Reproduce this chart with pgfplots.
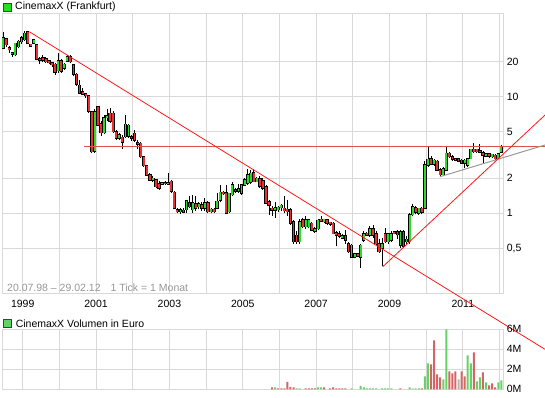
\documentclass[border=0pt]{standalone}
\usepackage{pgfplots}
\pgfplotsset{compat=1.18}
\usepackage{pgfplotstable}
\usepackage{fontspec}
\setmainfont{Liberation Sans}
\definecolor{cgreen}{RGB}{40,220,40}
\definecolor{cred}{RGB}{230,50,50}
\definecolor{vgreen}{RGB}{100,210,100}
\definecolor{vred}{RGB}{215,100,100}
\definecolor{vgray}{RGB}{180,180,180}
\definecolor{gridgray}{RGB}{217,217,217}
\definecolor{tline}{RGB}{255,25,25}
\definecolor{hline}{RGB}{220,80,80}
\definecolor{txtgray}{RGB}{150,150,150}

% monthly candles, m = months since Jan 1999
\pgfplotstableread{
m O H L C
-6 26 36 25.5 32
-2 23 29 22.5 28.8
-1 27 31 26 30
0 29.6 33 28.5 32.2
1 31 36.5 30 35
4 28.8 31.5 28.5 31
12 16.7 23.6 16 20.3
14 17.6 19.5 17 19
15 20.3 23 20 22.1
24 3.4 7.8 3.3 7.4
27 4.9 7.0 4.8 6.6
28 6.6 7.8 6.2 6.9
32 4.4 4.9 4.3 4.7
34 4.55 7.0 4.4 5.8
35 4.6 5.8 4.4 5.7
43 1.93 2.1 1.85 2.0
46 1.77 1.85 1.75 1.82
48 1.77 2.2 1.76 1.82
52 1.03 1.12 0.98 1.07
54 1.07 1.3 1.0 1.28
56 1.07 1.45 1.0 1.23
58 1.14 1.25 1.08 1.2
60 1.1 1.35 1.05 1.23
62 1.03 1.12 1.0 1.08
64 1.1 1.5 1.08 1.27
65 1.3 1.75 1.25 1.51
68 1.03 1.5 1.0 1.48
69 1.44 1.85 1.4 1.75
71 1.55 1.8 1.5 1.62
72 1.48 1.8 1.45 1.75
73 1.75 2.0 1.7 1.95
74 1.81 2.4 1.75 2.13
75 1.85 2.35 1.8 2.2
77 1.87 2.05 1.85 2.0
83 1.06 1.25 0.92 1.12
84 1.07 1.15 1.02 1.13
85 1.12 1.2 1.05 1.17
91 0.57 0.9 0.55 0.85
93 0.77 0.95 0.74 0.88
94 0.77 0.9 0.75 0.88
96 0.70 0.76 0.68 0.74
97 0.74 0.9 0.72 0.87
99 0.85 0.9 0.83 0.89
105 0.61 0.66 0.6 0.645
108 0.42 0.55 0.41 0.53
109 0.42 0.46 0.41 0.45
111 0.42 0.55 0.34 0.53
112 0.59 0.7 0.57 0.67
114 0.65 0.78 0.63 0.74
118 0.50 0.62 0.35 0.55
120 0.57 0.68 0.55 0.67
121 0.59 0.7 0.57 0.67
124 0.53 0.72 0.5 0.69
126 0.57 0.64 0.55 0.6
127 0.57 1.0 0.55 0.97
128 0.97 1.2 0.95 1.14
130 1.0 1.12 0.97 1.1
132 1.10 2.8 1.08 2.6
133 2.6 3.73 2.5 2.9
135 2.65 2.9 2.55 2.85
138 2.15 2.5 2.1 2.4
139 2.35 3.73 2.3 3.27
142 2.86 3.0 2.8 2.95
145 2.7 2.9 2.45 2.85
146 2.6 3.0 2.5 2.95
147 2.95 3.6 2.9 3.54
152 3.1 3.3 3.05 3.25
154 3.05 3.25 3.0 3.2
156 2.95 3.3 2.9 3.25
157 3.35 3.86 3.3 3.73
}\upc

\pgfplotstableread{
m O H L C
-5 31.5 32 27 28
-4 26.2 27.5 24 25.4
-3 23.9 24.2 22 23.2
2 36 37 28.5 29
3 28.2 28.5 26.5 27.3
5 28 28.5 20.5 21
6 21.3 22 19 20.6
7 21.7 23 20 20.7
8 21.3 22 19.5 20
9 20.3 20.5 19 19.6
10 19.5 20 18 18.8
11 19 19.5 15.5 16.2
13 20.3 21 16 16.5
16 22 23 19.5 20
17 18.8 19 15 15.6
18 15.6 16 12.5 12.8
19 12.6 14 10.5 10.7
20 11 11.8 10.3 10.5
21 10.6 10.8 9.8 10.2
22 10.2 10.3 7.3 7.5
23 7.45 7.6 3.27 3.38
25 8.2 8.4 5.6 5.7
26 5.9 6.2 4.6 4.9
29 7.2 8.0 6.0 6.2
30 7.2 7.5 4.9 5.0
31 5.0 5.2 4.3 4.4
33 4.5 4.7 3.6 4.1
36 4.55 4.7 4.2 4.4
37 4.86 5.2 4.1 4.25
38 4.05 4.3 3.6 3.9
39 3.98 4.1 3.0 3.06
40 3.06 3.1 2.5 2.56
41 2.56 2.6 2.1 2.13
42 2.13 2.2 1.9 1.93
44 1.93 1.95 1.65 1.69
45 1.8 1.9 1.6 1.64
47 1.83 1.9 1.75 1.79
49 1.89 1.95 1.5 1.55
50 1.51 1.55 1.08 1.10
51 1.07 1.1 1.0 1.03
53 1.06 1.1 1.0 1.02
55 1.23 1.4 1.1 1.14
57 1.2 1.4 1.05 1.1
59 1.18 1.25 1.05 1.1
61 1.23 1.28 1.0 1.03
63 1.08 1.1 1.0 1.03
66 1.51 1.55 1.45 1.47
67 1.50 1.75 0.98 1.0
70 1.6 1.65 1.5 1.54
76 2.23 2.39 1.85 1.87
78 1.99 2.1 1.65 1.71
79 1.9 2.0 1.6 1.65
80 1.69 1.75 1.2 1.22
81 1.26 1.3 0.97 1.18
82 1.1 1.15 0.95 1.06
86 1.1 1.4 1.0 1.05
87 1.08 1.3 0.95 1.03
88 1.07 1.1 0.8 0.82
89 0.85 0.88 0.55 0.57
90 0.65 0.7 0.55 0.57
92 0.88 0.92 0.75 0.77
95 0.82 0.85 0.7 0.72
98 0.89 0.95 0.84 0.86
100 0.88 0.9 0.8 0.82
101 0.84 0.85 0.78 0.805
102 0.82 0.84 0.66 0.67
103 0.68 0.7 0.52 0.65
104 0.665 0.7 0.62 0.635
106 0.64 0.72 0.55 0.59
107 0.55 0.57 0.46 0.47
110 0.45 0.46 0.42 0.43
113 0.675 0.69 0.64 0.65
115 0.74 0.8 0.62 0.65
116 0.67 0.7 0.53 0.55
117 0.55 0.6 0.46 0.47
119 0.67 0.75 0.56 0.57
122 0.69 0.7 0.66 0.67
123 0.69 0.72 0.6 0.655
125 0.69 0.72 0.5 0.52
129 1.12 1.15 0.98 1.02
131 1.1 1.14 0.98 1.02
134 2.95 3.1 2.6 2.65
136 2.8 2.85 2.3 2.35
137 2.35 2.45 2.05 2.15
140 3.27 3.35 3.0 3.06
141 3.06 3.15 2.8 2.9
143 2.95 3.0 2.75 2.8
144 2.85 2.9 2.65 2.7
148 3.54 4.03 3.3 3.38
149 3.54 3.6 3.3 3.38
150 3.45 3.9 3.3 3.36
151 3.3 3.4 2.69 3.15
153 3.25 3.3 3.0 3.1
155 3.15 3.2 2.85 2.95
}\downc

% volume in million euro
\pgfplotstableread{
m V
83 0.2
90 0.1
91 0.1
97 0.2
98 0.2
108 0.1
111 0.35
112 0.2
113 0.1
114 0.1
115 0.1
116 0.1
118 0.1
119 0.1
120 0.1
121 0.1
127 0.2
129 0.1
130 0.1
132 1.3
133 2.6
138 1.0
139 6.0
146 3.4
147 2.6
149 0.8
150 1.2
152 0.7
156 0.7
157 0.9
}\volgreen
\pgfplotstableread{
m V
82 0.2
84 0.1
85 0.1
86 0.1
87 0.75
88 0.25
89 0.2
93 0.1
94 0.1
95 0.1
96 0.1
99 0.2
101 0.1
102 0.2
103 0.1
104 0.1
105 0.1
106 0.1
124 0.1
131 0.1
134 2.5
135 4.9
136 1.5
137 1.2
140 1.8
141 1.6
142 1.8
144 1.8
145 1.3
148 3.7
151 1.7
153 0.4
154 0.6
155 0.2
}\volred
\pgfplotstableread{
m V
128 0.1
143 1.0
}\volgray

\begin{document}
\begin{tikzpicture}[font=\fontsize{10.5}{12}\selectfont]
\pgfplotsset{
  common/.style={
    scale only axis, anchor=south west, width=500.6pt,
    xmin=-6.15, xmax=157.65,
    axis line style={gridgray, line width=1pt},
    grid=major, major grid style={gridgray, line width=1pt},
    major tick length=0pt,
    xtick={0.4,12.4,24.4,36.4,48.4,60.4,72.4,84.4,96.4,108.4,120.4,132.4,144.4,156.4},
    yticklabel pos=right,
    ticklabel style={font=\fontsize{10.5}{12}\selectfont, text=black},
    /pgf/number format/assume math mode=true,
  },
  wick/.style={draw=none, mark=none, forget plot,
    error bars/.cd, y dir=plus, y explicit, error mark=none,
    error bar style={draw=black, line width=0.9pt}},
  bodyout/.style={draw=none, mark=none, forget plot,
    error bars/.cd, y dir=plus, y explicit, error mark=none,
    error bar style={draw=black, line width=3.3pt, shorten <=-0.6pt, shorten >=-0.6pt}},
  bodyin/.style={draw=none, mark=none, forget plot,
    error bars/.cd, y dir=plus, y explicit, error mark=none,
    error bar style={draw=#1, line width=1.8pt}},
}
% price panel
\begin{axis}[common,
  at={(2.7pt,104.7pt)}, height=280pt,
  ymode=log, ymin=0.2058, ymax=52.1,
  clip=false,
  xticklabels={1999,,2001,,2003,,2005,,2007,,2009,,2011,},
  xticklabel style={yshift=-3pt},
  ytick={0.5,1,2,5,10,20},
  yticklabels={{0,5},1,2,5,10,20},
]
\addplot[wick] table[x=m, y=L, y error plus expr=\thisrow{H}-\thisrow{L}] {\upc};
\addplot[wick] table[x=m, y=L, y error plus expr=\thisrow{H}-\thisrow{L}] {\downc};
\addplot[bodyout] table[x=m, y=O, y error plus expr=\thisrow{C}-\thisrow{O}] {\upc};
\addplot[bodyout] table[x=m, y=C, y error plus expr=\thisrow{O}-\thisrow{C}] {\downc};
\addplot[bodyin=cgreen] table[x=m, y=O, y error plus expr=\thisrow{C}-\thisrow{O}] {\upc};
\addplot[bodyin=cred] table[x=m, y=C, y error plus expr=\thisrow{O}-\thisrow{C}] {\downc};
% trend lines
\addplot[hline, line width=1pt] coordinates {(20.4,3.78) (171.3,3.78)};
\addplot[black!40, line width=1pt] coordinates {(136.9,2.06) (171.3,3.86)};
\addplot[tline, line width=0.8pt] coordinates {(2.55,36.2) (171.3,0.068)};
\addplot[tline, line width=0.8pt] coordinates {(118.2,0.348) (171.3,6.98)};
\end{axis}
% volume panel
\begin{axis}[common,
  at={(2.7pt,8.7pt)}, height=60pt,
  ymin=0, ymax=6,
  xticklabels={},
  ytick={0,2,4,6},
  yticklabels={0M,2M,4M,6M},
]
\addplot[ybar, bar width=2pt, bar shift=0pt, fill=vgreen, draw=none] table[x=m, y=V] {\volgreen};
\addplot[ybar, bar width=2pt, bar shift=0pt, fill=vred, draw=none] table[x=m, y=V] {\volred};
\addplot[ybar, bar width=2pt, bar shift=0pt, fill=vgray, draw=none] table[x=m, y=V] {\volgray};
\end{axis}
% legends and notes
\filldraw[fill=cgreen, draw=black!75, line width=0.8pt] (3.2pt,386.8pt) rectangle (11.2pt,394.8pt);
\node[anchor=west, inner sep=0pt] at (15pt,391pt) {CinemaxX (Frankfurt)};
\filldraw[fill=vgreen, draw=black!75, line width=0.8pt] (3.2pt,70.2pt) rectangle (11.2pt,78.2pt);
\node[anchor=west, inner sep=0pt] at (15.6pt,74pt) {CinemaxX Volumen in Euro};
\node[anchor=west, inner sep=0pt, text=txtgray] at (7pt,110.2pt) {20.07.98 -- 29.02.12\hspace{10pt}1 Tick = 1 Monat};
\pgfresetboundingbox
\path[use as bounding box] (0,0) rectangle (545pt,398pt);
\end{tikzpicture}
\end{document}
